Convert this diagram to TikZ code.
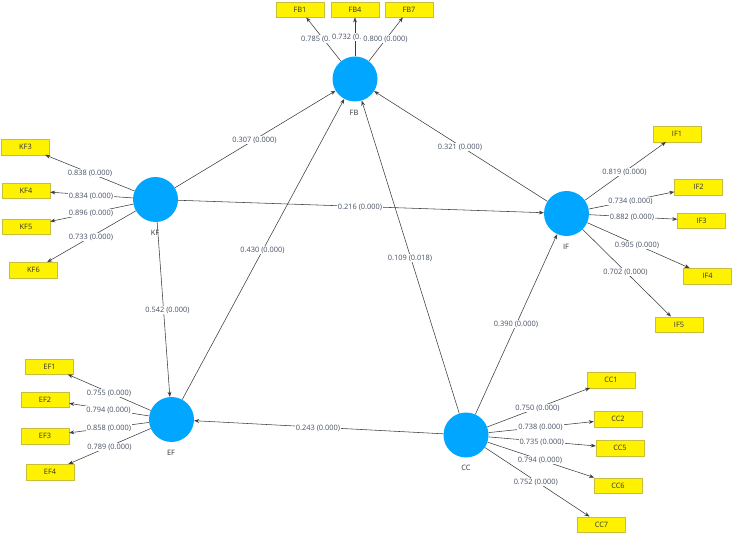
\documentclass[tikz,border=0pt]{standalone}
\usepackage{fontspec}
\setmainfont{Open Sans}
\usetikzlibrary{arrows.meta}
\definecolor{lvblue}{RGB}{0,166,255}
\definecolor{indyellow}{RGB}{255,242,0}
\definecolor{indborder}{RGB}{200,190,60}
\definecolor{lbltext}{RGB}{70,80,100}
\definecolor{boxtext}{RGB}{50,50,50}
\definecolor{linecol}{RGB}{60,60,60}
\tikzset{
  lv/.style={circle,fill=lvblue,minimum size=45pt,inner sep=0pt},
  lvname/.style={font=\fontsize{7.4}{9}\selectfont,text=boxtext,inner sep=0pt},
  ind/.style={rectangle,fill=indyellow,draw=indborder,line width=0.4pt,minimum width=48pt,minimum height=15.5pt,inner sep=0pt,font=\fontsize{7.4}{9}\selectfont,text=boxtext},
  lbl/.style={fill=white,inner sep=1pt,font=\fontsize{7.4}{9}\selectfont,text=lbltext},
  arr/.style={draw=linecol,line width=0.55pt,-{Stealth[length=5pt,width=3.8pt]}}
}
\begin{document}
\begin{tikzpicture}[x=1pt,y=-1pt]
\useasboundingbox (0,0) rectangle (733,534);
% latent variables
\node[lv] (FB) at (355,79) {};
\node[lv] (KF) at (155.5,199.5) {};
\node[lv] (IF) at (566.5,213.5) {};
\node[lv] (EF) at (171.5,419.5) {};
\node[lv] (CC) at (466,435) {};
\node[lvname] (nFB) at (354,113) {FB};
\node[lvname] (nKF) at (155,233) {KF};
\node[lvname] (nIF) at (566,247) {IF};
\node[lvname] (nEF) at (171,453) {EF};
\node[lvname] (nCC) at (466,468) {CC};
% indicators
\node[ind] (FB1) at (300,9.5) {FB1};
\node[ind] (FB4) at (355,9.5) {FB4};
\node[ind] (FB7) at (409,9.5) {FB7};
\node[ind] (KF3) at (25.5,147) {KF3};
\node[ind] (KF4) at (26,190.5) {KF4};
\node[ind] (KF5) at (26,226.5) {KF5};
\node[ind] (KF6) at (33.5,270) {KF6};
\node[ind] (IF1) at (677,134) {IF1};
\node[ind] (IF2) at (698.5,187) {IF2};
\node[ind] (IF3) at (701.5,220.5) {IF3};
\node[ind] (IF4) at (707.5,276) {IF4};
\node[ind] (IF5) at (679,324.5) {IF5};
\node[ind] (EF1) at (49.5,366.5) {EF1};
\node[ind] (EF2) at (45,399.5) {EF2};
\node[ind] (EF3) at (45,436) {EF3};
\node[ind] (EF4) at (50,472) {EF4};
\node[ind] (CC1) at (611,380) {CC1};
\node[ind] (CC2) at (618,419) {CC2};
\node[ind] (CC5) at (620,448) {CC5};
\node[ind] (CC6) at (618,485.5) {CC6};
\node[ind] (CC7) at (601.5,524.5) {CC7};
% structural paths
\draw[arr] (KF) -- (FB);
\draw[arr] (KF) -- (IF);
\draw[arr] (KF) -- (EF);
\draw[arr] (EF) -- (FB);
\draw[arr] (CC) -- (FB);
\draw[arr] (IF) -- (FB);
\draw[arr] (CC) -- (IF);
\draw[arr] (CC) -- (EF);
% measurement paths
\foreach \i in {FB1,FB4,FB7} \draw[arr] (FB) -- (\i);
\foreach \i in {KF3,KF4,KF5,KF6} \draw[arr] (KF) -- (\i);
\foreach \i in {IF1,IF2,IF3,IF4,IF5} \draw[arr] (IF) -- (\i);
\foreach \i in {EF1,EF2,EF3,EF4} \draw[arr] (EF) -- (\i);
\foreach \i in {CC1,CC2,CC5,CC6,CC7} \draw[arr] (CC) -- (\i);
% structural labels
\node[lbl] (lKFFB) at (254.5,140) {0.307 (0.000)};
\node[lbl] (lKFIF) at (360,207) {0.216 (0.000)};
\node[lbl] (lIFFB) at (460,147) {0.321 (0.000)};
\node[lbl] (lEFFB) at (262.5,250) {0.430 (0.000)};
\node[lbl] (lKFEF) at (167.5,310) {0.542 (0.000)};
\node[lbl] (lCCFB) at (410,258) {0.109 (0.018)};
\node[lbl] (lCCIF) at (516,324) {0.390 (0.000)};
\node[lbl] (lCCEF) at (318,428) {0.243 (0.000)};
% outer loading labels
\node[lbl,anchor=west] (lFB1) at (300,39) {0.785 (0.};
\node[lbl,anchor=west] (lFB4) at (331,37) {0.732 (0.};
\node[lbl] (lFB7) at (385.5,39) {0.800 (0.000)};
\node[lbl] (lKF3) at (90,173) {0.838 (0.000)};
\node[lbl] (lKF4) at (91,196) {0.834 (0.000)};
\node[lbl] (lKF5) at (91,213) {0.896 (0.000)};
\node[lbl] (lKF6) at (91,237) {0.733 (0.000)};
\node[lbl] (lIF1) at (624.5,172) {0.819 (0.000)};
\node[lbl] (lIF2) at (630.5,201) {0.734 (0.000)};
\node[lbl] (lIF3) at (632,217) {0.882 (0.000)};
\node[lbl] (lIF4) at (637,245) {0.905 (0.000)};
\node[lbl] (lIF5) at (625.5,272) {0.702 (0.000)};
\node[lbl] (lEF1) at (109,393) {0.755 (0.000)};
\node[lbl] (lEF2) at (108.5,410) {0.794 (0.000)};
\node[lbl] (lEF3) at (109,428) {0.858 (0.000)};
\node[lbl] (lEF4) at (109.5,447) {0.789 (0.000)};
\node[lbl] (lCC1) at (537.5,408) {0.750 (0.000)};
\node[lbl] (lCC2) at (540.5,427) {0.738 (0.000)};
\node[lbl] (lCC5) at (541.7,442) {0.735 (0.000)};
\node[lbl] (lCC6) at (540,460) {0.794 (0.000)};
\node[lbl] (lCC7) at (535.8,482) {0.752 (0.000)};
\end{tikzpicture}
\end{document}
